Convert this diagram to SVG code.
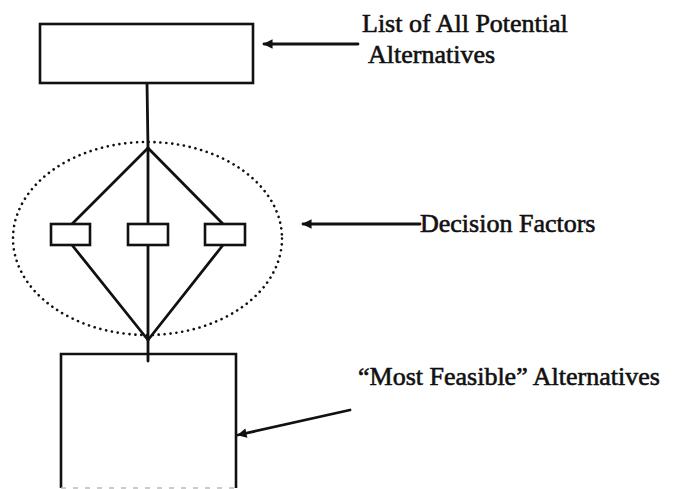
<svg xmlns="http://www.w3.org/2000/svg" width="685" height="489" viewBox="0 0 685 489">
<defs>
<style>
.box{fill:#fff;stroke:#111;stroke-width:2.6}
.ln{fill:none;stroke:#111;stroke-width:2.8;stroke-linecap:round;stroke-linejoin:round}
.dot{fill:none;stroke:#111;stroke-width:2.6;stroke-dasharray:0.1 5.8;stroke-linecap:round}
.lbl{font-family:"Liberation Serif","Times New Roman",serif;font-size:26px;fill:#111;stroke:#111;stroke-width:0.6}
</style>
<marker id="ah" viewBox="0 0 10 10" refX="9" refY="5" markerWidth="4.2" markerHeight="3.4" orient="auto" markerUnits="strokeWidth">
<path d="M0,0 L10,5 L0,10 z" fill="#111"/>
</marker>
</defs>
<g id="connectors">
<line class="ln" x1="147" y1="83" x2="148" y2="148"/>
<line class="ln" x1="148" y1="148" x2="148" y2="361"/>
<line class="ln" x1="148" y1="148" x2="72" y2="224"/>
<line class="ln" x1="148" y1="148" x2="223" y2="224"/>
<line class="ln" x1="72" y1="245" x2="148" y2="340"/>
<line class="ln" x1="223" y1="245" x2="148" y2="340"/>
<line class="ln" x1="358" y1="44" x2="264" y2="44" marker-end="url(#ah)"/>
<line class="ln" x1="420" y1="224" x2="303" y2="224" marker-end="url(#ah)"/>
<line class="ln" x1="350" y1="410" x2="238" y2="435" marker-end="url(#ah)"/>
</g>
<g id="ellipse">
<ellipse class="dot" cx="147.5" cy="238.5" rx="134.5" ry="96.5"/>
</g>
<g id="list-box">
<rect class="box" x="40" y="24" width="213" height="59"/>
</g>
<g id="factor-1"><rect class="box" x="51" y="224" width="39" height="21"/></g>
<g id="factor-2"><rect class="box" x="128" y="224" width="40" height="21"/></g>
<g id="factor-3"><rect class="box" x="205" y="224" width="40" height="21"/></g>
<g id="feasible-box">
<path class="box" style="fill:none" d="M61,488 L61,354 L236,354 L236,488"/>
<line x1="61" y1="488" x2="236" y2="488" stroke="#bbb" stroke-width="1.5" stroke-dasharray="5 7"/>
</g>
<g id="labels">
<text class="lbl" x="362" y="32">List of All Potential</text>
<text class="lbl" x="368" y="63">Alternatives</text>
<text class="lbl" x="420" y="232">Decision Factors</text>
<text class="lbl" x="358" y="385">“Most Feasible” Alternatives</text>
</g>
</svg>
